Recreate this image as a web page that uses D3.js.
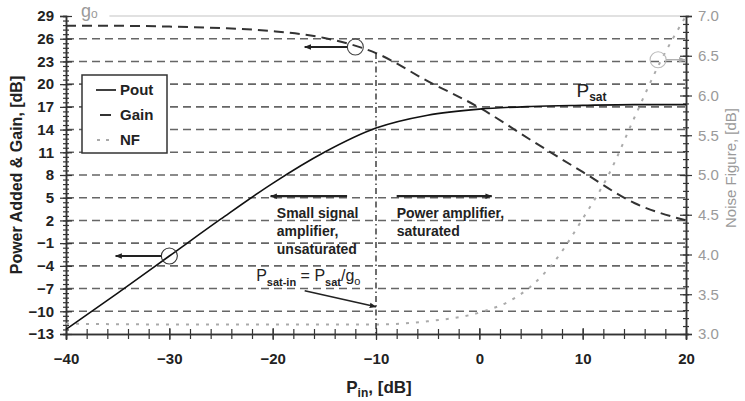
<!DOCTYPE html>
<html lang="en">
<head>
<meta charset="utf-8">
<title>Pout, Gain and NF versus Pin</title>
<script src="https://cdn.jsdelivr.net/npm/d3@7"></script>
<style>
  body { margin: 0; background: #fff; }
  text { font-family: "Liberation Sans", Arial, sans-serif; }
</style>
</head>
<body>
<svg class="chart" width="745" height="401"></svg>
<script>
var width = 745, height = 401;
var margin = {top: 16, right: 59, bottom: 67, left: 66};

// curves
var pin   = [-40, -35, -30, -25, -20, -15, -10, -5, 0, 5, 10, 15, 20];
var pout  = [-12.4, -7.6, -2.7, 2.2, 6.9, 11.0, 14.2, 15.9, 16.7, 17.05, 17.2, 17.3, 17.3];
var gain  = [27.7, 27.7, 27.6, 27.4, 27.0, 26.1, 24.1, 20.4, 16.9, 12.6, 8.4, 4.3, 2.0];
var nfPin = [-40, -30, -20, -10, -5, 0, 3, 5, 7.5, 10, 12.5, 15, 17.5, 20];
var nf    = [3.13, 3.12, 3.12, 3.12, 3.16, 3.27, 3.42, 3.6, 3.95, 4.45, 5.0, 5.72, 6.42, 7.0];

// tick labels
var xTicks  = [-40, -30, -20, -10, 0, 10, 20];
var yTicks  = [29, 26, 23, 20, 17, 14, 11, 8, 5, 2, -1, -4, -7, -10, -13];
var nfTicks = [3.0, 3.5, 4.0, 4.5, 5.0, 5.5, 6.0, 6.5, 7.0];
var legendNames = ["Pout", "Gain", "NF"];

var x = d3.scaleLinear().domain([-40, 20]).range([margin.left, width - margin.right]);
var y = d3.scaleLinear().domain([-13, 29]).range([height - margin.bottom, margin.top]);
var yNF = d3.scaleLinear().domain([3, 7]).range([height - margin.bottom, margin.top]);

var svg = d3.select("svg.chart");
var defs = svg.append("defs");
function marker(id, color) {
  defs.append("marker")
      .attr("id", id)
      .attr("viewBox", "0 0 10 10")
      .attr("refX", 9).attr("refY", 5)
      .attr("markerWidth", 7).attr("markerHeight", 7)
      .attr("markerUnits", "userSpaceOnUse")
      .attr("orient", "auto")
    .append("path")
      .attr("d", "M0,1 L10,5 L0,9 Z")
      .attr("fill", color);
}
marker("arr", "#222");
marker("arrGray", "#aaa");

// grid
svg.append("g").selectAll("line")
    .data(yTicks.filter(function(d) { return d != 29 && d != -13; }))
  .enter().append("line")
    .attr("x1", x(-40)).attr("x2", x(20))
    .attr("y1", function(d) { return y(d); })
    .attr("y2", function(d) { return y(d); })
    .attr("stroke", "#666")
    .attr("stroke-width", 1.6)
    .attr("stroke-dasharray", "8,5");

svg.append("line")
    .attr("x1", x(-35.8)).attr("x2", x(20))
    .attr("y1", y(29)).attr("y2", y(29))
    .attr("stroke", "#c4c4c4").attr("stroke-width", 1.2);

// axes
var bottom = svg.append("g")
    .attr("transform", "translate(0," + y(-13) + ")")
    .call(d3.axisBottom(x).tickValues(xTicks).tickSize(6).tickPadding(13).tickFormat(d3.format("d")));
var bottomMinor = svg.append("g")
    .attr("transform", "translate(0," + y(-13) + ")")
    .call(d3.axisBottom(x).tickValues(d3.range(-40, 20.1, 2)).tickSize(5).tickFormat(""));
[bottom, bottomMinor].forEach(function(g) {
  g.select(".domain").attr("stroke", "#333").attr("stroke-width", 1.5);
  g.selectAll(".tick line").attr("y1", -5).attr("stroke", "#333").attr("stroke-width", 1.2);
});
bottom.selectAll(".tick line").attr("y1", -6);
bottom.selectAll("text").attr("font-size", 15).attr("font-weight", "bold").attr("fill", "#222");

var left = svg.append("g")
    .attr("transform", "translate(" + x(-40) + ",0)")
    .call(d3.axisLeft(y).tickValues(yTicks).tickSize(6).tickPadding(6).tickFormat(d3.format("d")));
var leftMinor = svg.append("g")
    .attr("transform", "translate(" + x(-40) + ",0)")
    .call(d3.axisLeft(y).tickValues(d3.range(-13, 29.01, 0.6)).tickSize(3).tickFormat(""));
[left, leftMinor].forEach(function(g) {
  g.select(".domain").attr("stroke", "#333").attr("stroke-width", 1.5);
  g.selectAll(".tick line").attr("x1", 3).attr("stroke", "#333").attr("stroke-width", 1.2);
});
left.selectAll(".tick line").attr("x1", 6);
left.selectAll("text").attr("font-size", 15).attr("font-weight", "bold").attr("fill", "#222");

var right = svg.append("g")
    .attr("transform", "translate(" + x(20) + ",0)")
    .call(d3.axisRight(yNF).tickValues(nfTicks).tickSize(6).tickPadding(6).tickFormat(d3.format(".1f")));
var rightMinor = svg.append("g")
    .attr("transform", "translate(" + x(20) + ",0)")
    .call(d3.axisRight(yNF).tickValues(d3.range(3, 7.001, 0.1)).tickSize(3).tickFormat(""));
[right, rightMinor].forEach(function(g) {
  g.select(".domain").attr("stroke", "#333").attr("stroke-width", 1.5);
  g.selectAll(".tick line").attr("x1", -3).attr("stroke", "#333").attr("stroke-width", 1.2);
});
right.selectAll(".tick line").attr("x1", -6);
right.selectAll("text").attr("font-size", 15).attr("fill", "#9a9a9a");

// axis titles
svg.append("text")
    .attr("transform", "translate(22," + ((y(29) + y(-13)) / 2) + ") rotate(-90)")
    .attr("text-anchor", "middle")
    .attr("font-size", 16).attr("font-weight", "bold").attr("fill", "#222")
    .text("Power Added & Gain, [dB]");

svg.append("text")
    .attr("transform", "translate(736," + 168 + ") rotate(-90)")
    .attr("text-anchor", "middle")
    .attr("font-size", 15).attr("fill", "#9a9a9a")
    .text("Noise Figure, [dB]");

var xt = svg.append("text")
    .attr("x", 379).attr("y", 393)
    .attr("text-anchor", "middle")
    .attr("font-size", 17).attr("font-weight", "bold").attr("fill", "#222");
xt.append("tspan").text("P");
xt.append("tspan").attr("font-size", 12).attr("dy", 4).text("in");
xt.append("tspan").attr("dy", -4).text(", [dB]");

// curves
var line = d3.line()
    .curve(d3.curveMonotoneX)
    .x(function(d) { return x(d[0]); })
    .y(function(d) { return y(d[1]); });
var lineNF = d3.line()
    .curve(d3.curveMonotoneX)
    .x(function(d) { return x(d[0]); })
    .y(function(d) { return yNF(d[1]); });

svg.append("path")
    .datum(d3.zip(pin, gain))
    .attr("d", line)
    .attr("fill", "none").attr("stroke", "#333")
    .attr("stroke-width", 2).attr("stroke-dasharray", "10,6");

svg.append("path")
    .datum(d3.zip(nfPin, nf))
    .attr("d", lineNF)
    .attr("fill", "none").attr("stroke", "#aaa")
    .attr("stroke-width", 2).attr("stroke-dasharray", "3,7");

svg.append("path")
    .datum(d3.zip(pin, pout))
    .attr("d", line)
    .attr("fill", "none").attr("stroke", "#111")
    .attr("stroke-width", 1.6);

// Psat-in marker line at -10 dB
svg.append("line")
    .attr("x1", x(-10)).attr("x2", x(-10))
    .attr("y1", y(24.1)).attr("y2", y(-13))
    .attr("stroke", "#222").attr("stroke-width", 1.3)
    .attr("stroke-dasharray", "6,3,1.5,3");

// circles with arrows pointing to their axes
function circ(cx, cy, color) {
  svg.append("circle").attr("cx", cx).attr("cy", cy).attr("r", 8)
      .attr("fill", "none").attr("stroke", color).attr("stroke-width", 1.1);
}
function arrow(x1, y1, x2, y2, id, color, w) {
  svg.append("line")
      .attr("x1", x1).attr("y1", y1).attr("x2", x2).attr("y2", y2)
      .attr("stroke", color).attr("stroke-width", w)
      .attr("marker-end", "url(#" + id + ")");
}
circ(x(-30), y(-2.7), "#333");
arrow(x(-30) - 8, y(-2.7), x(-35.2), y(-2.7), "arr", "#222", 2);
circ(x(-12), y(24.9), "#444");
arrow(x(-12) - 8, y(24.9), x(-16.9), y(24.9), "arr", "#222", 2);
circ(x(17.3), yNF(6.45), "#bbb");
arrow(x(17.3) + 8, yNF(6.45), x(20) - 1, yNF(6.45), "arrGray", "#aaa", 1.3);

// region arrows and labels
arrow(x(-12.8), y(5.2), x(-20.2), y(5.2), "arr", "#222", 2.2);
arrow(x(-8), y(5.2), x(1.2), y(5.2), "arr", "#222", 2.2);

function block(px, py, lines) {
  var t = svg.append("text").attr("font-size", 14).attr("font-weight", "bold").attr("fill", "#222");
  lines.forEach(function(s, i) {
    t.append("tspan").attr("x", px).attr("y", py + i * 18).text(s);
  });
}
block(x(-19.6), 218, ["Small signal", "amplifier,", "unsaturated"]);
block(x(-8), 218, ["Power amplifier,", "saturated"]);

var ps = svg.append("text")
    .attr("x", x(-21.6)).attr("y", 281)
    .attr("font-size", 16).attr("fill", "#222");
ps.append("tspan").text("P");
ps.append("tspan").attr("font-size", 11).attr("font-weight", "bold").attr("dy", 5).text("sat-in");
ps.append("tspan").attr("dy", -5).text(" = P");
ps.append("tspan").attr("font-size", 11).attr("font-weight", "bold").attr("dy", 5).text("sat");
ps.append("tspan").attr("dy", -5).text("/g");
ps.append("tspan").attr("font-size", 11).attr("dy", 4).text("o");
arrow(x(-16.9), y(-7.3), x(-10), y(-9.4), "arr", "#222", 1.6);

var psat = svg.append("text")
    .attr("x", x(9.4)).attr("y", 97)
    .attr("font-size", 19).attr("fill", "#222");
psat.append("tspan").text("P");
psat.append("tspan").attr("font-size", 12).attr("font-weight", "bold").attr("dy", 4).text("sat");

var g0 = svg.append("text")
    .attr("x", 81).attr("y", 17)
    .attr("font-size", 18).attr("fill", "#9a9a9a");
g0.append("tspan").text("g");
g0.append("tspan").attr("font-size", 12).attr("dy", 1).text("o");

// legend
var lg = svg.append("g").attr("transform", "translate(82,75)");
lg.append("rect").attr("width", 85).attr("height", 78)
    .attr("fill", "#fff").attr("stroke", "#333").attr("stroke-width", 1.5);
var styles = [
  {stroke: "#111", dash: null, x1: 14, x2: 34, w: 1.6},
  {stroke: "#333", dash: null, x1: 18, x2: 29, w: 2},
  {stroke: "#aaa", dash: "3,6", x1: 15, x2: 33, w: 2}
];
legendNames.forEach(function(name, i) {
  var s = styles[i];
  lg.append("line")
      .attr("x1", s.x1).attr("x2", s.x2)
      .attr("y1", 15 + i * 25).attr("y2", 15 + i * 25)
      .attr("stroke", s.stroke).attr("stroke-width", s.w)
      .attr("stroke-dasharray", s.dash);
  lg.append("text")
      .attr("x", 38).attr("y", 20 + i * 25)
      .attr("font-size", 15).attr("font-weight", "bold").attr("fill", "#222")
      .text(name);
});
</script>
</body>
</html>
